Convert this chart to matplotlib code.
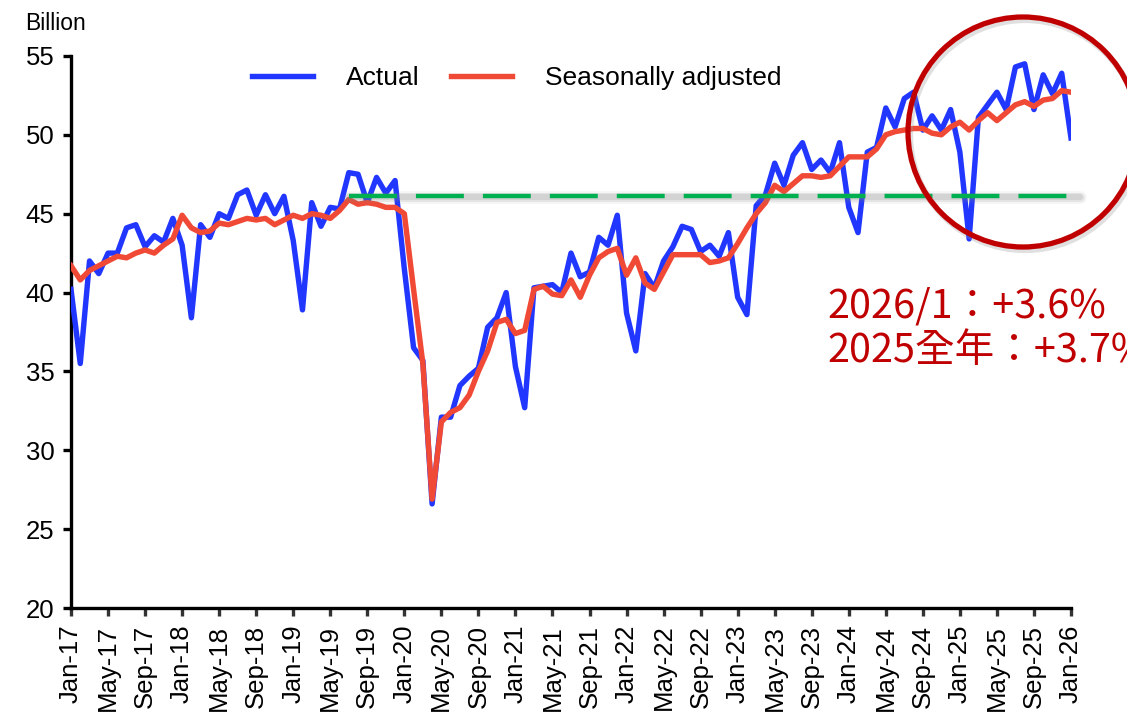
import matplotlib.pyplot as plt
from matplotlib.patches import Ellipse

plt.rcParams['font.family'] = ['Liberation Sans', 'DejaVu Sans']
plt.rcParams['lines.scale_dashes'] = False

# monthly values, Jan-17 .. Jan-26 (billion)
actual = [
    40.2, 35.5, 42.0, 41.2, 42.5, 42.5, 44.1, 44.3, 42.9, 43.6, 43.2, 44.7,   # 2017
    43.0, 38.4, 44.3, 43.5, 45.0, 44.7, 46.2, 46.5, 44.9, 46.2, 45.0, 46.1,   # 2018
    43.3, 38.9, 45.7, 44.2, 45.4, 45.3, 47.6, 47.5, 45.7, 47.3, 46.3, 47.1,   # 2019
    41.5, 36.5, 35.7, 26.6, 32.1, 32.1, 34.1, 34.7, 35.2, 37.8, 38.4, 40.0,   # 2020
    35.3, 32.7, 40.3, 40.4, 40.5, 40.0, 42.5, 41.0, 41.3, 43.5, 43.0, 44.9,   # 2021
    38.7, 36.3, 41.2, 40.3, 42.0, 42.9, 44.2, 44.0, 42.6, 43.0, 42.3, 43.8,   # 2022
    39.7, 38.6, 45.5, 46.2, 48.2, 46.8, 48.7, 49.5, 47.8, 48.4, 47.6, 49.5,   # 2023
    45.4, 43.8, 48.9, 49.2, 51.7, 50.5, 52.3, 52.7, 50.3, 51.2, 50.3, 51.6,   # 2024
    48.9, 43.4, 51.1, 51.9, 52.7, 51.6, 54.3, 54.5, 51.6, 53.8, 52.6, 53.9,   # 2025
    49.8,                                                                     # 2026
]
adjusted = [
    41.7, 40.8, 41.4, 41.7, 42.0, 42.3, 42.2, 42.5, 42.7, 42.5, 43.0, 43.4,
    44.9, 44.1, 43.8, 43.9, 44.4, 44.3, 44.5, 44.7, 44.6, 44.7, 44.3, 44.6,
    44.9, 44.7, 45.0, 44.9, 44.7, 45.2, 45.9, 45.6, 45.7, 45.6, 45.4, 45.4,
    45.0, 40.2, 35.5, 26.9, 31.8, 32.4, 32.7, 33.5, 35.0, 36.3, 38.1, 38.3,
    37.4, 37.6, 40.2, 40.4, 39.9, 39.8, 40.8, 39.7, 41.1, 42.2, 42.6, 42.8,
    41.1, 42.2, 40.6, 40.2, 41.3, 42.4, 42.4, 42.4, 42.4, 41.9, 42.0, 42.2,
    43.1, 44.1, 45.0, 45.7, 46.8, 46.4, 46.9, 47.4, 47.4, 47.3, 47.4, 48.0,
    48.6, 48.6, 48.6, 49.1, 50.0, 50.2, 50.3, 50.4, 50.4, 50.1, 50.0, 50.5,
    50.8, 50.3, 50.9, 51.4, 50.9, 51.4, 51.9, 52.1, 51.8, 52.2, 52.3, 52.8,
    52.7,
]
tick_labels = [
    'Jan-17', 'May-17', 'Sep-17', 'Jan-18', 'May-18', 'Sep-18', 'Jan-19',
    'May-19', 'Sep-19', 'Jan-20', 'May-20', 'Sep-20', 'Jan-21', 'May-21',
    'Sep-21', 'Jan-22', 'May-22', 'Sep-22', 'Jan-23', 'May-23', 'Sep-23',
    'Jan-24', 'May-24', 'Sep-24', 'Jan-25', 'May-25', 'Sep-25', 'Jan-26',
]
level_2019 = 46.1      # pre-covid reference level
level_from = 30        # Jul-19
level_to = 109

fig = plt.figure(figsize=(11.27, 7.17), dpi=100)
ax = fig.add_axes([0.063, 0.152, 0.8873, 0.770])

x = list(range(len(actual)))
ax.plot(x, actual, color='#2137ff', lw=3.9, label='Actual', zorder=3)
ax.plot(x, adjusted, color='#f04a36', lw=3.9, label='Seasonally adjusted', zorder=4)

# reference level: green dashes over a soft grey shadow
dash = (0, (34.5, 13.7))
for w, a in [(9, 0.08), (6.5, 0.12), (4.5, 0.18)]:
    ax.plot([level_from, level_to], [level_2019 - 0.05, level_2019 - 0.05], color='#808080',
            lw=w, alpha=a, solid_capstyle='round', clip_on=False, zorder=5)
ax.plot([level_from, level_to], [level_2019, level_2019], color='#00b050', lw=3.2,
        linestyle=dash, dash_capstyle='butt', clip_on=False, zorder=6)

ax.set_xlim(0, 108)
ax.set_ylim(20, 55)
ax.set_xticks(range(0, 109, 4))
ax.set_xticklabels(tick_labels, rotation=90)
ax.set_yticks(range(20, 56, 5))

for s in ['top', 'right']:
    ax.spines[s].set_visible(False)
ax.spines['left'].set_linewidth(2.4)
ax.spines['bottom'].set_linewidth(2.4)
ax.tick_params(axis='y', direction='out', length=6, width=2.4, labelsize=18.5, pad=6)
ax.tick_params(axis='x', direction='out', length=6, width=2.4, color='#333333',
               labelsize=18.5, pad=6)

ax.legend(loc='center left', bbox_to_anchor=(0.181, 0.960), ncol=2, frameon=False,
          fontsize=19, handlelength=2.3, handletextpad=1.25, columnspacing=1.2,
          borderpad=0, borderaxespad=0)

fig.text(25 / 1127, 1 - 30 / 717, 'Billion', fontsize=16.5, va='baseline')

# highlight circle with a light shadow
fig.add_artist(Ellipse((1025 / 1127, 1 - 135 / 717), 230 / 1127, 230 / 717,
                       transform=fig.transFigure, fill=False, ec='#9a9a9a',
                       lw=4.5, alpha=0.3))
fig.add_artist(Ellipse((1023 / 1127, 1 - 132 / 717), 230 / 1127, 230 / 717,
                       transform=fig.transFigure, fill=False, ec='#c00000', lw=3.8))

cjk = ['Noto Sans CJK TC', 'DejaVu Sans']
fig.text(827 / 1127, 1 - 318 / 717, '2026/1：+3.6%', color='#c00000',
         fontsize=28.5, family=cjk, va='baseline')
fig.text(827 / 1127, 1 - 362 / 717, '2025全年：+3.7%', color='#c00000',
         fontsize=28.5, family=cjk, va='baseline')

fig.savefig('out.png', dpi=100)
